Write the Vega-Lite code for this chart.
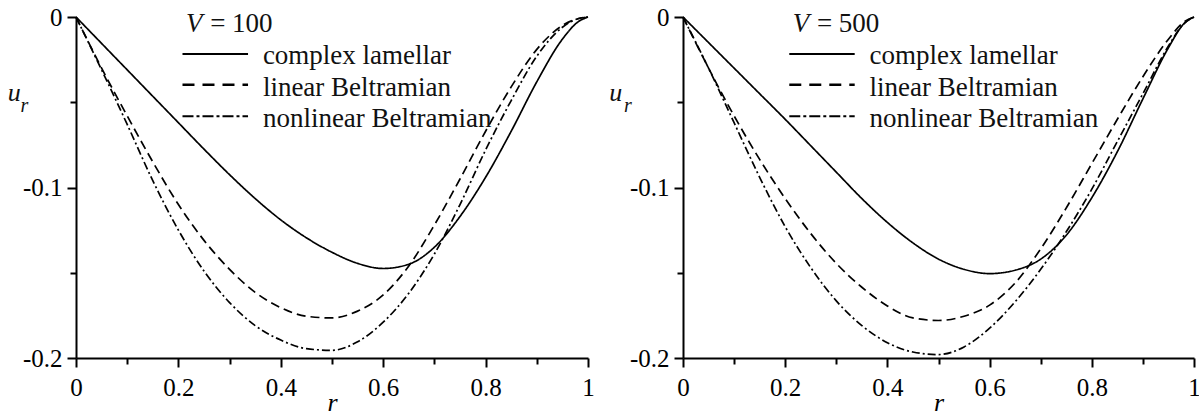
{
  "$schema": "https://vega.github.io/schema/vega-lite/v6.json",
  "background": "white",
  "autosize": {"type": "pad"},
  "padding": {"left": 7, "top": 5, "right": 0, "bottom": 0},
  "bounds": "flush",
  "spacing": 95,
  "config": {
    "view": {"stroke": null},
    "font": "Liberation Serif",
    "axis": {
      "grid": false,
      "domainColor": "black",
      "domainWidth": 2,
      "tickColor": "black",
      "tickWidth": 2,
      "labelFont": "Liberation Serif",
      "labelFontSize": 25,
      "labelColor": "black",
      "labelOverlap": false,
      "labelBound": false,
      "labelFlush": false,
      "titleFont": "Liberation Serif",
      "titleColor": "black",
      "titleFontWeight": "normal"
    },
    "text": {"font": "Liberation Serif", "color": "#111"}
  },
  "datasets": {
    "curves": [
      {"V": 100, "model": "complex lamellar", "r": 0, "u": 0},
      {"V": 100, "model": "complex lamellar", "r": 0.05, "u": -0.0155},
      {"V": 100, "model": "complex lamellar", "r": 0.1, "u": -0.031},
      {"V": 100, "model": "complex lamellar", "r": 0.15, "u": -0.0465},
      {"V": 100, "model": "complex lamellar", "r": 0.2, "u": -0.062},
      {"V": 100, "model": "complex lamellar", "r": 0.25, "u": -0.0775},
      {"V": 100, "model": "complex lamellar", "r": 0.3, "u": -0.0925},
      {"V": 100, "model": "complex lamellar", "r": 0.35, "u": -0.1065},
      {"V": 100, "model": "complex lamellar", "r": 0.4, "u": -0.119},
      {"V": 100, "model": "complex lamellar", "r": 0.45, "u": -0.1295},
      {"V": 100, "model": "complex lamellar", "r": 0.5, "u": -0.138},
      {"V": 100, "model": "complex lamellar", "r": 0.55, "u": -0.1445},
      {"V": 100, "model": "complex lamellar", "r": 0.6, "u": -0.1475},
      {"V": 100, "model": "complex lamellar", "r": 0.65, "u": -0.145},
      {"V": 100, "model": "complex lamellar", "r": 0.7, "u": -0.135},
      {"V": 100, "model": "complex lamellar", "r": 0.75, "u": -0.117},
      {"V": 100, "model": "complex lamellar", "r": 0.8, "u": -0.094},
      {"V": 100, "model": "complex lamellar", "r": 0.85, "u": -0.067},
      {"V": 100, "model": "complex lamellar", "r": 0.9, "u": -0.038},
      {"V": 100, "model": "complex lamellar", "r": 0.95, "u": -0.013},
      {"V": 100, "model": "complex lamellar", "r": 0.98, "u": -0.003},
      {"V": 100, "model": "complex lamellar", "r": 1, "u": 0},

      {"V": 100, "model": "linear Beltramian", "r": 0, "u": 0},
      {"V": 100, "model": "linear Beltramian", "r": 0.05, "u": -0.03},
      {"V": 100, "model": "linear Beltramian", "r": 0.1, "u": -0.058},
      {"V": 100, "model": "linear Beltramian", "r": 0.15, "u": -0.085},
      {"V": 100, "model": "linear Beltramian", "r": 0.2, "u": -0.11},
      {"V": 100, "model": "linear Beltramian", "r": 0.25, "u": -0.131},
      {"V": 100, "model": "linear Beltramian", "r": 0.3, "u": -0.148},
      {"V": 100, "model": "linear Beltramian", "r": 0.35, "u": -0.1615},
      {"V": 100, "model": "linear Beltramian", "r": 0.4, "u": -0.1705},
      {"V": 100, "model": "linear Beltramian", "r": 0.45, "u": -0.1755},
      {"V": 100, "model": "linear Beltramian", "r": 0.5, "u": -0.1765},
      {"V": 100, "model": "linear Beltramian", "r": 0.55, "u": -0.1725},
      {"V": 100, "model": "linear Beltramian", "r": 0.6, "u": -0.163},
      {"V": 100, "model": "linear Beltramian", "r": 0.65, "u": -0.146},
      {"V": 100, "model": "linear Beltramian", "r": 0.7, "u": -0.122},
      {"V": 100, "model": "linear Beltramian", "r": 0.75, "u": -0.095},
      {"V": 100, "model": "linear Beltramian", "r": 0.8, "u": -0.067},
      {"V": 100, "model": "linear Beltramian", "r": 0.85, "u": -0.041},
      {"V": 100, "model": "linear Beltramian", "r": 0.9, "u": -0.019},
      {"V": 100, "model": "linear Beltramian", "r": 0.95, "u": -0.005},
      {"V": 100, "model": "linear Beltramian", "r": 0.98, "u": -0.001},
      {"V": 100, "model": "linear Beltramian", "r": 1, "u": 0},

      {"V": 100, "model": "nonlinear Beltramian", "r": 0, "u": 0},
      {"V": 100, "model": "nonlinear Beltramian", "r": 0.05, "u": -0.031},
      {"V": 100, "model": "nonlinear Beltramian", "r": 0.1, "u": -0.063},
      {"V": 100, "model": "nonlinear Beltramian", "r": 0.15, "u": -0.096},
      {"V": 100, "model": "nonlinear Beltramian", "r": 0.2, "u": -0.125},
      {"V": 100, "model": "nonlinear Beltramian", "r": 0.25, "u": -0.149},
      {"V": 100, "model": "nonlinear Beltramian", "r": 0.3, "u": -0.1675},
      {"V": 100, "model": "nonlinear Beltramian", "r": 0.35, "u": -0.181},
      {"V": 100, "model": "nonlinear Beltramian", "r": 0.4, "u": -0.1895},
      {"V": 100, "model": "nonlinear Beltramian", "r": 0.45, "u": -0.1945},
      {"V": 100, "model": "nonlinear Beltramian", "r": 0.5, "u": -0.1955},
      {"V": 100, "model": "nonlinear Beltramian", "r": 0.55, "u": -0.1905},
      {"V": 100, "model": "nonlinear Beltramian", "r": 0.6, "u": -0.179},
      {"V": 100, "model": "nonlinear Beltramian", "r": 0.65, "u": -0.162},
      {"V": 100, "model": "nonlinear Beltramian", "r": 0.7, "u": -0.139},
      {"V": 100, "model": "nonlinear Beltramian", "r": 0.75, "u": -0.11},
      {"V": 100, "model": "nonlinear Beltramian", "r": 0.8, "u": -0.078},
      {"V": 100, "model": "nonlinear Beltramian", "r": 0.85, "u": -0.049},
      {"V": 100, "model": "nonlinear Beltramian", "r": 0.9, "u": -0.023},
      {"V": 100, "model": "nonlinear Beltramian", "r": 0.95, "u": -0.006},
      {"V": 100, "model": "nonlinear Beltramian", "r": 0.98, "u": -0.001},
      {"V": 100, "model": "nonlinear Beltramian", "r": 1, "u": 0},

      {"V": 500, "model": "complex lamellar", "r": 0, "u": 0},
      {"V": 500, "model": "complex lamellar", "r": 0.05, "u": -0.015},
      {"V": 500, "model": "complex lamellar", "r": 0.1, "u": -0.03},
      {"V": 500, "model": "complex lamellar", "r": 0.15, "u": -0.045},
      {"V": 500, "model": "complex lamellar", "r": 0.2, "u": -0.06},
      {"V": 500, "model": "complex lamellar", "r": 0.25, "u": -0.0755},
      {"V": 500, "model": "complex lamellar", "r": 0.3, "u": -0.091},
      {"V": 500, "model": "complex lamellar", "r": 0.35, "u": -0.1065},
      {"V": 500, "model": "complex lamellar", "r": 0.4, "u": -0.1205},
      {"V": 500, "model": "complex lamellar", "r": 0.45, "u": -0.1325},
      {"V": 500, "model": "complex lamellar", "r": 0.5, "u": -0.142},
      {"V": 500, "model": "complex lamellar", "r": 0.55, "u": -0.148},
      {"V": 500, "model": "complex lamellar", "r": 0.6, "u": -0.1505},
      {"V": 500, "model": "complex lamellar", "r": 0.65, "u": -0.1485},
      {"V": 500, "model": "complex lamellar", "r": 0.7, "u": -0.142},
      {"V": 500, "model": "complex lamellar", "r": 0.75, "u": -0.128},
      {"V": 500, "model": "complex lamellar", "r": 0.8, "u": -0.106},
      {"V": 500, "model": "complex lamellar", "r": 0.85, "u": -0.079},
      {"V": 500, "model": "complex lamellar", "r": 0.9, "u": -0.048},
      {"V": 500, "model": "complex lamellar", "r": 0.95, "u": -0.018},
      {"V": 500, "model": "complex lamellar", "r": 0.98, "u": -0.004},
      {"V": 500, "model": "complex lamellar", "r": 1, "u": 0},

      {"V": 500, "model": "linear Beltramian", "r": 0, "u": 0},
      {"V": 500, "model": "linear Beltramian", "r": 0.05, "u": -0.03},
      {"V": 500, "model": "linear Beltramian", "r": 0.1, "u": -0.058},
      {"V": 500, "model": "linear Beltramian", "r": 0.15, "u": -0.0835},
      {"V": 500, "model": "linear Beltramian", "r": 0.2, "u": -0.1065},
      {"V": 500, "model": "linear Beltramian", "r": 0.25, "u": -0.127},
      {"V": 500, "model": "linear Beltramian", "r": 0.3, "u": -0.1445},
      {"V": 500, "model": "linear Beltramian", "r": 0.35, "u": -0.1585},
      {"V": 500, "model": "linear Beltramian", "r": 0.4, "u": -0.1695},
      {"V": 500, "model": "linear Beltramian", "r": 0.45, "u": -0.1765},
      {"V": 500, "model": "linear Beltramian", "r": 0.5, "u": -0.178},
      {"V": 500, "model": "linear Beltramian", "r": 0.55, "u": -0.1755},
      {"V": 500, "model": "linear Beltramian", "r": 0.6, "u": -0.169},
      {"V": 500, "model": "linear Beltramian", "r": 0.65, "u": -0.156},
      {"V": 500, "model": "linear Beltramian", "r": 0.7, "u": -0.136},
      {"V": 500, "model": "linear Beltramian", "r": 0.75, "u": -0.112},
      {"V": 500, "model": "linear Beltramian", "r": 0.8, "u": -0.086},
      {"V": 500, "model": "linear Beltramian", "r": 0.85, "u": -0.06},
      {"V": 500, "model": "linear Beltramian", "r": 0.9, "u": -0.035},
      {"V": 500, "model": "linear Beltramian", "r": 0.95, "u": -0.013},
      {"V": 500, "model": "linear Beltramian", "r": 0.98, "u": -0.003},
      {"V": 500, "model": "linear Beltramian", "r": 1, "u": 0},

      {"V": 500, "model": "nonlinear Beltramian", "r": 0, "u": 0},
      {"V": 500, "model": "nonlinear Beltramian", "r": 0.05, "u": -0.03},
      {"V": 500, "model": "nonlinear Beltramian", "r": 0.1, "u": -0.062},
      {"V": 500, "model": "nonlinear Beltramian", "r": 0.15, "u": -0.094},
      {"V": 500, "model": "nonlinear Beltramian", "r": 0.2, "u": -0.123},
      {"V": 500, "model": "nonlinear Beltramian", "r": 0.25, "u": -0.147},
      {"V": 500, "model": "nonlinear Beltramian", "r": 0.3, "u": -0.1665},
      {"V": 500, "model": "nonlinear Beltramian", "r": 0.35, "u": -0.181},
      {"V": 500, "model": "nonlinear Beltramian", "r": 0.4, "u": -0.191},
      {"V": 500, "model": "nonlinear Beltramian", "r": 0.45, "u": -0.1965},
      {"V": 500, "model": "nonlinear Beltramian", "r": 0.5, "u": -0.198},
      {"V": 500, "model": "nonlinear Beltramian", "r": 0.55, "u": -0.1935},
      {"V": 500, "model": "nonlinear Beltramian", "r": 0.6, "u": -0.1825},
      {"V": 500, "model": "nonlinear Beltramian", "r": 0.65, "u": -0.167},
      {"V": 500, "model": "nonlinear Beltramian", "r": 0.7, "u": -0.148},
      {"V": 500, "model": "nonlinear Beltramian", "r": 0.75, "u": -0.126},
      {"V": 500, "model": "nonlinear Beltramian", "r": 0.8, "u": -0.101},
      {"V": 500, "model": "nonlinear Beltramian", "r": 0.85, "u": -0.073},
      {"V": 500, "model": "nonlinear Beltramian", "r": 0.9, "u": -0.045},
      {"V": 500, "model": "nonlinear Beltramian", "r": 0.95, "u": -0.017},
      {"V": 500, "model": "nonlinear Beltramian", "r": 0.98, "u": -0.004},
      {"V": 500, "model": "nonlinear Beltramian", "r": 1, "u": 0}
    ],
    "legend": [
      {"model": "complex lamellar"},
      {"model": "linear Beltramian"},
      {"model": "nonlinear Beltramian"}
    ],
    "symbols": [
      {"label": "u"},
      {"label": "r"},
      {"label": "V"}
    ]
  },
  "hconcat": [
    {
      "width": 512,
      "height": 341,
      "layer": [
        {
          "data": {"name": "curves"},
          "transform": [{"filter": "datum.V == 100"}],
          "mark": {"type": "line", "interpolate": "monotone", "strokeWidth": 1.7, "color": "black"},
          "encoding": {
            "x": {
              "field": "r", "type": "quantitative",
              "scale": {"domain": [0, 1], "nice": false, "zero": false},
              "axis": {
                "values": [0, 0.1, 0.2, 0.3, 0.4, 0.5, 0.6, 0.7, 0.8, 0.9, 1],
                "labelExpr": "abs(datum.value * 5 - round(datum.value * 5)) < 1e-6 ? '' + datum.value : ''",
                "tickSize": {"condition": {"test": "abs(datum.value * 5 - round(datum.value * 5)) < 1e-6", "value": 9}, "value": 6},
                "labelPadding": 8, "labelFont": "Liberation Serif",
                "title": "r", "titleFontSize": 26, "titleFontStyle": "italic", "titlePadding": -11
              }
            },
            "y": {
              "field": "u", "type": "quantitative",
              "scale": {"domain": [-0.2, 0], "nice": false},
              "axis": {
                "values": [0, -0.05, -0.1, -0.15, -0.2],
                "labelExpr": "abs(datum.value * 10 - round(datum.value * 10)) < 1e-6 ? '' + datum.value : ''",
                "tickSize": {"condition": {"test": "abs(datum.value * 10 - round(datum.value * 10)) < 1e-6", "value": 9}, "value": 6},
                "labelPadding": 5, "labelFont": "Liberation Serif",
                "title": null
              }
            },
            "strokeDash": {
              "field": "model", "type": "nominal",
              "scale": {"domain": ["complex lamellar", "linear Beltramian", "nonlinear Beltramian"], "range": [[1, 0], [9, 5], [8, 3, 2, 3]]},
              "legend": null
            }
          }
        },
        {
          "data": {"name": "symbols"},
          "transform": [{"filter": "datum.label == 'u'"}],
          "mark": {"type": "text", "fontSize": 26, "fontStyle": "italic", "align": "left", "baseline": "alphabetic"},
          "encoding": {"text": {"field": "label"}, "x": {"datum": -0.1334}, "y": {"datum": -0.0491}}
        },
        {
          "data": {"name": "symbols"},
          "transform": [{"filter": "datum.label == 'r'"}],
          "mark": {"type": "text", "fontSize": 20, "fontStyle": "italic", "align": "left", "baseline": "alphabetic"},
          "encoding": {"text": {"field": "label"}, "x": {"datum": -0.1085}, "y": {"datum": -0.0557}}
        },
        {
          "data": {"name": "symbols"},
          "transform": [{"filter": "datum.label == 'V'"}],
          "mark": {"type": "text", "fontSize": 27, "fontStyle": "italic", "align": "left", "baseline": "alphabetic"},
          "encoding": {"text": {"field": "label"}, "x": {"datum": 0.215}, "y": {"datum": -0.0088}}
        },
        {
          "data": {"name": "symbols"},
          "transform": [{"filter": "datum.label == 'V'"}],
          "mark": {"type": "text", "text": "= 100", "fontSize": 27, "align": "left", "baseline": "alphabetic"},
          "encoding": {"x": {"datum": 0.262}, "y": {"datum": -0.0088}}
        },
        {
          "data": {"name": "legend"},
          "transform": [{"filter": "datum.model == 'complex lamellar'"}],
          "mark": {"type": "rule", "strokeWidth": 2, "color": "black"},
          "encoding": {"x": {"datum": 0.208}, "x2": {"datum": 0.336}, "y": {"datum": -0.0217}}
        },
        {
          "data": {"name": "legend"},
          "transform": [{"filter": "datum.model == 'linear Beltramian'"}],
          "mark": {"type": "rule", "strokeWidth": 2.6, "color": "black", "strokeDash": [12, 8]},
          "encoding": {"x": {"datum": 0.208}, "x2": {"datum": 0.336}, "y": {"datum": -0.0397}}
        },
        {
          "data": {"name": "legend"},
          "transform": [{"filter": "datum.model == 'nonlinear Beltramian'"}],
          "mark": {"type": "rule", "strokeWidth": 2, "color": "black", "strokeDash": [11, 3, 3, 3]},
          "encoding": {"x": {"datum": 0.208}, "x2": {"datum": 0.336}, "y": {"datum": -0.0582}}
        },
        {
          "data": {"name": "legend"},
          "transform": [{"filter": "datum.model == 'complex lamellar'"}],
          "mark": {"type": "text", "fontSize": 27, "align": "left", "baseline": "alphabetic"},
          "encoding": {"text": {"field": "model"}, "x": {"datum": 0.365}, "y": {"datum": -0.0276}}
        },
        {
          "data": {"name": "legend"},
          "transform": [{"filter": "datum.model == 'linear Beltramian'"}],
          "mark": {"type": "text", "fontSize": 27, "align": "left", "baseline": "alphabetic"},
          "encoding": {"text": {"field": "model"}, "x": {"datum": 0.365}, "y": {"datum": -0.0461}}
        },
        {
          "data": {"name": "legend"},
          "transform": [{"filter": "datum.model == 'nonlinear Beltramian'"}],
          "mark": {"type": "text", "fontSize": 27, "align": "left", "baseline": "alphabetic"},
          "encoding": {"text": {"field": "model"}, "x": {"datum": 0.365}, "y": {"datum": -0.0645}}
        }
      ]
    },
    {
      "width": 511,
      "height": 341,
      "layer": [
        {
          "data": {"name": "curves"},
          "transform": [{"filter": "datum.V == 500"}],
          "mark": {"type": "line", "interpolate": "monotone", "strokeWidth": 1.7, "color": "black"},
          "encoding": {
            "x": {
              "field": "r", "type": "quantitative",
              "scale": {"domain": [0, 1], "nice": false, "zero": false},
              "axis": {
                "values": [0, 0.1, 0.2, 0.3, 0.4, 0.5, 0.6, 0.7, 0.8, 0.9, 1],
                "labelExpr": "abs(datum.value * 5 - round(datum.value * 5)) < 1e-6 ? '' + datum.value : ''",
                "tickSize": {"condition": {"test": "abs(datum.value * 5 - round(datum.value * 5)) < 1e-6", "value": 9}, "value": 6},
                "labelPadding": 8, "labelFont": "Liberation Serif",
                "title": "r", "titleFontSize": 26, "titleFontStyle": "italic", "titlePadding": -11
              }
            },
            "y": {
              "field": "u", "type": "quantitative",
              "scale": {"domain": [-0.2, 0], "nice": false},
              "axis": {
                "values": [0, -0.05, -0.1, -0.15, -0.2],
                "labelExpr": "abs(datum.value * 10 - round(datum.value * 10)) < 1e-6 ? '' + datum.value : ''",
                "tickSize": {"condition": {"test": "abs(datum.value * 10 - round(datum.value * 10)) < 1e-6", "value": 9}, "value": 6},
                "labelPadding": 5, "labelFont": "Liberation Serif",
                "title": null
              }
            },
            "strokeDash": {
              "field": "model", "type": "nominal",
              "scale": {"domain": ["complex lamellar", "linear Beltramian", "nonlinear Beltramian"], "range": [[1, 0], [9, 5], [8, 3, 2, 3]]},
              "legend": null
            }
          }
        },
        {
          "data": {"name": "symbols"},
          "transform": [{"filter": "datum.label == 'u'"}],
          "mark": {"type": "text", "fontSize": 26, "fontStyle": "italic", "align": "left", "baseline": "alphabetic"},
          "encoding": {"text": {"field": "label"}, "x": {"datum": -0.1445}, "y": {"datum": -0.0491}}
        },
        {
          "data": {"name": "symbols"},
          "transform": [{"filter": "datum.label == 'r'"}],
          "mark": {"type": "text", "fontSize": 20, "fontStyle": "italic", "align": "left", "baseline": "alphabetic"},
          "encoding": {"text": {"field": "label"}, "x": {"datum": -0.1155}, "y": {"datum": -0.0557}}
        },
        {
          "data": {"name": "symbols"},
          "transform": [{"filter": "datum.label == 'V'"}],
          "mark": {"type": "text", "fontSize": 27, "fontStyle": "italic", "align": "left", "baseline": "alphabetic"},
          "encoding": {"text": {"field": "label"}, "x": {"datum": 0.215}, "y": {"datum": -0.0088}}
        },
        {
          "data": {"name": "symbols"},
          "transform": [{"filter": "datum.label == 'V'"}],
          "mark": {"type": "text", "text": "= 500", "fontSize": 27, "align": "left", "baseline": "alphabetic"},
          "encoding": {"x": {"datum": 0.262}, "y": {"datum": -0.0088}}
        },
        {
          "data": {"name": "legend"},
          "transform": [{"filter": "datum.model == 'complex lamellar'"}],
          "mark": {"type": "rule", "strokeWidth": 2, "color": "black"},
          "encoding": {"x": {"datum": 0.208}, "x2": {"datum": 0.336}, "y": {"datum": -0.0217}}
        },
        {
          "data": {"name": "legend"},
          "transform": [{"filter": "datum.model == 'linear Beltramian'"}],
          "mark": {"type": "rule", "strokeWidth": 2.6, "color": "black", "strokeDash": [12, 8]},
          "encoding": {"x": {"datum": 0.208}, "x2": {"datum": 0.336}, "y": {"datum": -0.0397}}
        },
        {
          "data": {"name": "legend"},
          "transform": [{"filter": "datum.model == 'nonlinear Beltramian'"}],
          "mark": {"type": "rule", "strokeWidth": 2, "color": "black", "strokeDash": [11, 3, 3, 3]},
          "encoding": {"x": {"datum": 0.208}, "x2": {"datum": 0.336}, "y": {"datum": -0.0582}}
        },
        {
          "data": {"name": "legend"},
          "transform": [{"filter": "datum.model == 'complex lamellar'"}],
          "mark": {"type": "text", "fontSize": 27, "align": "left", "baseline": "alphabetic"},
          "encoding": {"text": {"field": "model"}, "x": {"datum": 0.365}, "y": {"datum": -0.0276}}
        },
        {
          "data": {"name": "legend"},
          "transform": [{"filter": "datum.model == 'linear Beltramian'"}],
          "mark": {"type": "text", "fontSize": 27, "align": "left", "baseline": "alphabetic"},
          "encoding": {"text": {"field": "model"}, "x": {"datum": 0.365}, "y": {"datum": -0.0461}}
        },
        {
          "data": {"name": "legend"},
          "transform": [{"filter": "datum.model == 'nonlinear Beltramian'"}],
          "mark": {"type": "text", "fontSize": 27, "align": "left", "baseline": "alphabetic"},
          "encoding": {"text": {"field": "model"}, "x": {"datum": 0.365}, "y": {"datum": -0.0645}}
        }
      ]
    }
  ]
}
